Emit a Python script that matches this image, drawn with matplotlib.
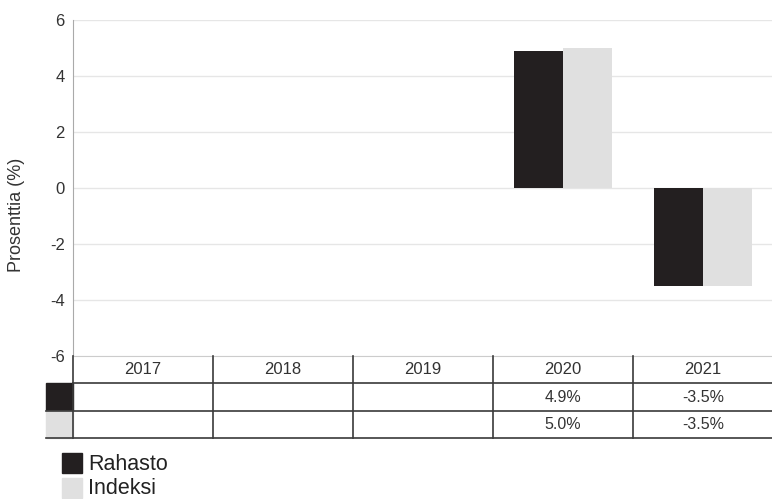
import numpy as np
import matplotlib.pyplot as plt
from matplotlib.patches import Rectangle

plt.rcParams['font.family'] = ['Liberation Sans', 'DejaVu Sans']

years = ['2017', '2018', '2019', '2020', '2021']
series = ['Rahasto', 'Indeksi']
rahasto = [np.nan, np.nan, np.nan, 4.9, -3.5]
indeksi = [np.nan, np.nan, np.nan, 5.0, -3.5]
colors = ['#231f20', '#e0e0e0']
yticks = [-6, -4, -2, 0, 2, 4, 6]

W, H = 772, 499
fig = plt.figure(figsize=(W / 100, H / 100), dpi=100)

def px(x0, y0, x1, y1):
    # pixel box -> figure fraction
    return [x0 / W, 1 - y1 / H, (x1 - x0) / W, (y1 - y0) / H]

txt = '#333333'

# main chart
ax = fig.add_axes(px(73, 20, 773, 356))
x = np.arange(len(years))
bw = 0.35
for k, (vals, c) in enumerate(zip([rahasto, indeksi], colors)):
    ax.bar(x + (k - 0.5) * bw, vals, bw, color=c, zorder=3)
ax.set_xlim(-0.5, len(years) - 0.5)
ax.set_ylim(-6, 6)
ax.set_yticks(yticks)
ax.set_yticklabels([str(t) for t in yticks], fontsize=12, color=txt)
ax.set_xticks([])
ax.grid(axis='y', color='#e6e6e6', linewidth=1, zorder=0)
for s in ['top', 'right', 'bottom']:
    ax.spines[s].set_visible(False)
ax.spines['left'].set_color('#aaaaaa')
ax.tick_params(axis='y', length=0, pad=6)
ax.set_ylabel('Prosenttia (%)', fontsize=13, color=txt)
ax.yaxis.set_label_coords(-0.068, 0.42)

# data table under the chart
tb = fig.add_axes(px(73, 356, 773, 438))
tb.set_xlim(-0.5, len(years) - 0.5)
tb.set_ylim(3, 0)
tb.axis('off')
line = '#3a3a3a'
sw = 27 / 140
tb.axhline(0, color='#cccccc', lw=1.5)
for yy in [1, 2, 3]:
    tb.plot([-0.5 - (sw if yy > 1 else 0), len(years) - 0.5], [yy, yy],
            color=line, lw=1.2, clip_on=False)
for i in range(len(years)):
    tb.plot([i - 0.5, i - 0.5], [0, 3], color=line, lw=1.2, clip_on=False)
for i, yr in enumerate(years):
    tb.text(i, 0.5, yr, ha='center', va='center', fontsize=12, color=txt)
for r, (vals, c) in enumerate(zip([rahasto, indeksi], colors)):
    tb.add_patch(Rectangle((-0.5 - sw, r + 1), sw, 1, color=c, clip_on=False))
    for i, v in enumerate(vals):
        if not np.isnan(v):
            tb.text(i, r + 1.5, f'{v:.1f}%', ha='center', va='center',
                    fontsize=11.5, color=txt)

# legend
for k, (name, c) in enumerate(zip(series, colors)):
    y0 = 453 + k * 25
    fig.patches.append(Rectangle((62 / W, 1 - (y0 + 20) / H), 20 / W, 20 / H,
                                 color=c, transform=fig.transFigure))
    fig.text(88 / W, 1 - (y0 + 11) / H, name, fontsize=15.5, color='#222222',
             va='center', ha='left')

fig.savefig('out.png', dpi=100)
